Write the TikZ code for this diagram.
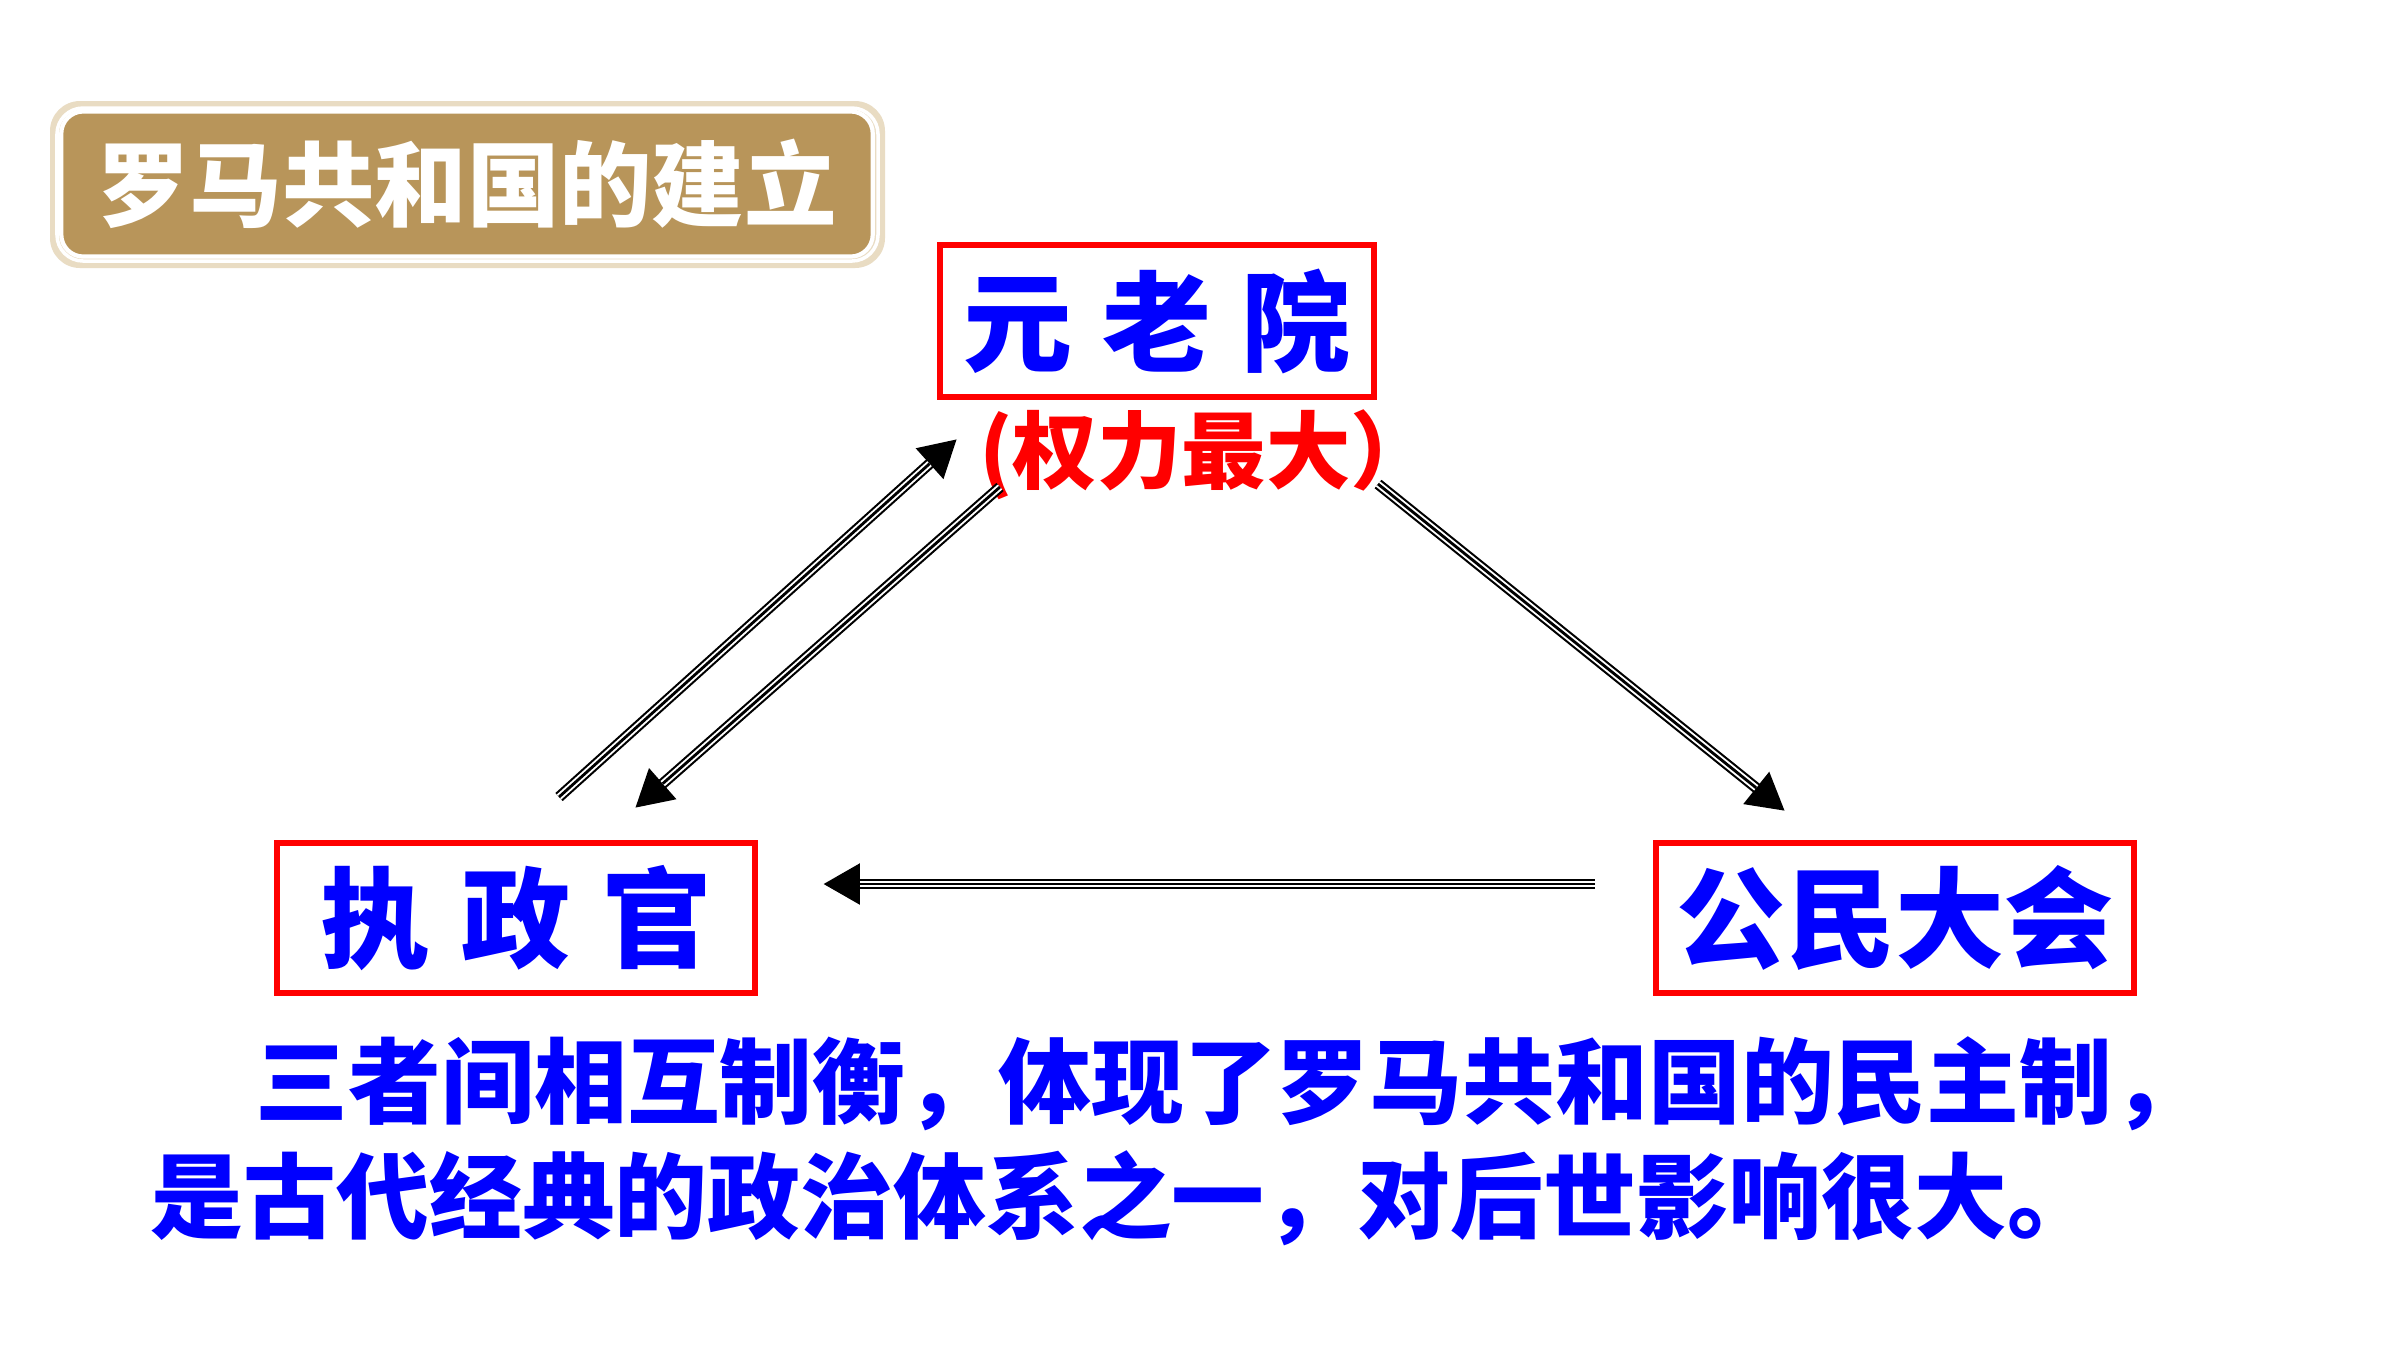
\documentclass[tikz,border=0pt]{standalone}
\usepackage{fontspec}
\newfontfamily\cjk{Noto Sans CJK SC}
\usetikzlibrary{arrows.meta}
\definecolor{tanfill}{HTML}{B8955A}
\definecolor{glow}{HTML}{E9DCC3}
\definecolor{myblue}{HTML}{0000FF}
\definecolor{myred}{HTML}{FF0000}
\begin{document}
\begin{tikzpicture}[x=0.01cm,y=-0.01cm,
  box/.style={draw=myred, line width=1.7pt, inner sep=0pt, text=myblue,
    font=\cjk\bfseries\fontsize{31}{31}\selectfont},
  tri/.style={line width=3.1pt, -{Triangle[length=10.5pt,width=11pt]},
    postaction={draw,-,white,line width=1.9pt,shorten >=10.5pt},
    postaction={draw,-,black,line width=0.8pt,shorten >=10.5pt}},
  body/.style={anchor=west, inner sep=0pt, text=myblue,
    font=\cjk\bfseries\fontsize{26.4}{26.4}\selectfont}]
\useasboundingbox (0,0) rectangle (2400,1350);
\fill[white] (0,0) rectangle (2400,1350);
% title
\fill[glow, rounded corners=0.3cm] (50,101) rectangle (885,268);
\draw[white, line width=1pt, rounded corners=0.26cm] (57,108) rectangle (878,261);
\node[fill=tanfill, draw=white, line width=1.2pt, rounded corners=0.22cm,
  minimum width=8.11cm, minimum height=1.45cm, inner sep=0pt, text=white,
  font=\cjk\bfseries\fontsize{26.3}{26.3}\selectfont] (title) at (467,184) {罗马共和国的建立};
% boxes
\node[box, minimum width=4.34cm, minimum height=1.52cm] (senate) at (1157,321)
  {元\hspace{0.3cm}老\hspace{0.3cm}院};
\node[inner sep=0pt, text=myred, font=\cjk\bfseries\fontsize{24}{24}\selectfont]
  (power) at (1207,455) {(权力最大）};
\node[box, minimum width=4.78cm, minimum height=1.50cm] (consul) at (516,918)
  {执\hspace{0.32cm}政\hspace{0.32cm}官};
\node[box, minimum width=4.78cm, minimum height=1.50cm] (assembly) at (1895,918)
  {公民大会};
% arrow ends
\coordinate (u1) at (559,797);
\coordinate (u2) at (957,439);
\coordinate (d1) at (1000,487);
\coordinate (d2) at (635,808);
\coordinate (r1) at (1378,484);
\coordinate (r2) at (1785,811);
\coordinate (h1) at (1595,884);
\coordinate (h2) at (823,884);
\draw[tri] (u1) -- (u2);
\draw[tri] (d1) -- (d2);
\draw[tri] (r1) -- (r2);
\draw[tri] (h1) -- (h2);
% body text
\node[body] (l1) at (255,1084) {三者间相互制衡，体现了罗马共和国的民主制，};
\node[body] (l2) at (150,1198) {是古代经典的政治体系之一，对后世影响很大。};
\end{tikzpicture}
\end{document}
